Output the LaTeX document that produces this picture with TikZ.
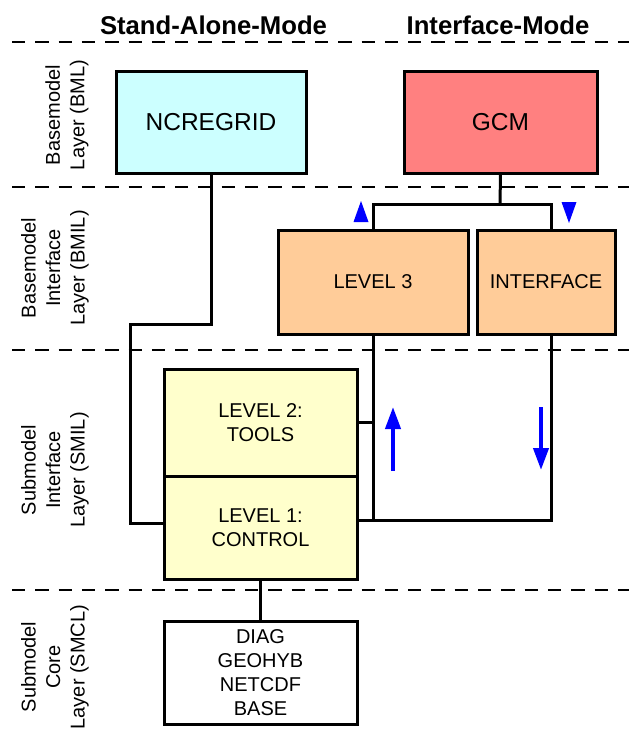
\documentclass[tikz,border=0pt]{standalone}
\usepackage{fontspec}
\setmainfont{Liberation Sans}
\usetikzlibrary{arrows.meta}
\definecolor{cyanbox}{HTML}{CCFFFF}
\definecolor{redbox}{HTML}{FF8080}
\definecolor{orangebox}{HTML}{FFCC99}
\definecolor{yellowbox}{HTML}{FFFFCC}
\tikzset{
  box/.style={draw=black, line width=3pt, inner sep=0pt, align=center, font=\fontsize{20}{24}\selectfont},
  bigtext/.style={font=\fontsize{24.5}{28}\selectfont},
  conn/.style={draw=black, line width=3pt},
  sep/.style={draw=black, line width=2.5pt, dash pattern=on 13.3pt off 10pt},
  layerlabel/.style={rotate=90, align=center, font=\fontsize{20}{24.5}\selectfont, inner sep=0pt},
  modetitle/.style={font=\bfseries\fontsize{25.7}{30}\selectfont, inner sep=0pt},
  bluearrow/.style={draw=blue, line width=4pt, -{Triangle[width=15pt,length=22pt]}},
}
\begin{document}
\begin{tikzpicture}[x=1pt,y=-1pt]
\useasboundingbox (0,0) rectangle (629,744);
% separators
\foreach \yy in {42,187,350,590} \draw[sep] (12,\yy) -- (629,\yy);
% titles
\node[modetitle] (tsa) at (213.5,25) {Stand-Alone-Mode};
\node[modetitle] (tim) at (498,25) {Interface-Mode};
% layer labels
\node[layerlabel] (lbml) at (67,115) {Basemodel\\Layer (BML)};
\node[layerlabel] (lbmil) at (55,268) {Basemodel\\Interface\\Layer (BMIL)};
\node[layerlabel] (lsmil) at (55,470) {Submodel\\Interface\\Layer (SMIL)};
\node[layerlabel] (lsmcl) at (55,667) {Submodel\\Core\\Layer (SMCL)};
% boxes
\node[box, bigtext, fill=cyanbox, minimum width=190pt, minimum height=102pt] (ncr) at (211,122) {NCREGRID};
\node[box, bigtext, fill=redbox, minimum width=193pt, minimum height=102pt] (gcm) at (500.5,122) {GCM};
\node[box, fill=orangebox, minimum width=190pt, minimum height=104pt] (lv3) at (373,282) {LEVEL 3};
\node[box, fill=orangebox, minimum width=138pt, minimum height=104pt] (intf) at (546,282) {INTERFACE};
\node[box, fill=yellowbox, minimum width=193pt, minimum height=107pt] (lv2) at (260.5,422.5) {LEVEL 2:\\TOOLS};
\node[box, fill=yellowbox, minimum width=193pt, minimum height=103pt] (lv1) at (260.5,527.5) {LEVEL 1:\\CONTROL};
\node[box, fill=white, minimum width=193pt, minimum height=103pt] (core) at (260.5,672.5) {DIAG\\GEOHYB\\NETCDF\\BASE};
% junction coordinates
\coordinate (j1) at (500,204);
\coordinate (jl3) at (373,204);
\coordinate (jin) at (551,204);
% connectors
\draw[conn] (gcm.south) -- (j1);
\draw[conn] (lv3.north) -- (jl3) -- (jin) -- (jin |- intf.north);
\draw[conn] (ncr.south) -- (211,324) -- (130,324) -- (130,523) -- (lv1.west |- 0,523);
\draw[conn] (lv3.south) -- (373,520) -- (lv1.east |- 0,520);
\draw[conn] (551,334) -- (551,520) -- (373,520);
\draw[conn] (lv2.east |- 0,422) -- (373,422);
\draw[conn] (lv1.south) -- (core.north);
% blue markers
\fill[blue] (361,201) -- (368.5,222) -- (353.5,222) -- cycle;
\fill[blue] (569,223) -- (576.5,202) -- (561.5,202) -- cycle;
\draw[bluearrow] (393,471) -- (393,407);
\draw[bluearrow] (541,407) -- (541,470);
\end{tikzpicture}
\end{document}
